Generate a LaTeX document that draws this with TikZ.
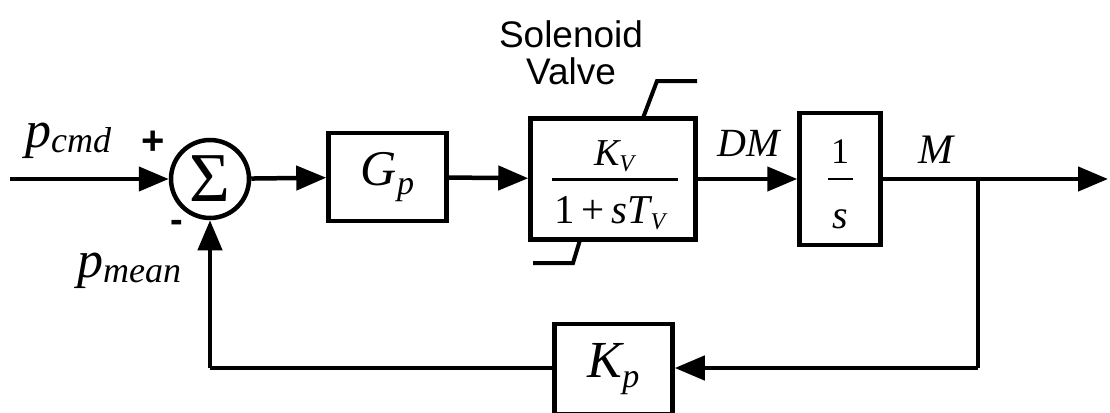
\documentclass[tikz,border=0pt]{standalone}
\usepackage{fontspec}
\setmainfont{Liberation Serif}
\newfontfamily\ars{Liberation Sans}
\usetikzlibrary{arrows.meta}
\newcommand\fsz[1]{\fontsize{#1}{#1}\selectfont}
\begin{document}
\begin{tikzpicture}[x=1pt,y=-1pt,
  blk/.style={draw,line width=4.5pt,inner sep=0pt},
  arr/.style={line width=4.5pt,-{Triangle[length=30pt,width=24pt]}},
  ln/.style={line width=4.5pt},
  lbl/.style={inner sep=0pt}]
\useasboundingbox[fill=white] (0,0) rectangle (1110,412);
% blocks
\node[blk,circle,minimum size=78pt] (sum) at (210,179) {\raisebox{-1pt}{\fsz{70}Σ}};
\node[blk,minimum width=118pt,minimum height=88pt] (gp) at (387.5,177)
  {\itshape\fsz{50}G\raisebox{-9pt}{\fsz{34}p}};
\node[blk,minimum width=165pt,minimum height=121pt] (sv) at (613,179) {};
\node[blk,minimum width=81pt,minimum height=132pt] (int) at (840,179) {};
\node[blk,minimum width=118pt,minimum height=90pt] (kp) at (613.5,369)
  {\itshape\fsz{52}K\raisebox{-10pt}{\fsz{34}p}};
% fraction contents
\node[lbl] (kvn) at (614,156) {\itshape\fsz{38}K\raisebox{-6pt}{\fsz{24}V}};
\node[lbl] (kvd) at (610,213) {\fsz{41}1\,+\,{\itshape sT\raisebox{-6pt}{\fsz{24}V}}};
\draw[line width=3pt] (552,179) -- (678,179);
\node[lbl] (one) at (840,152) {\fsz{36}1};
\node[lbl] (ess) at (840,219) {\itshape\fsz{40}s};
\draw[line width=2.5pt] (828,179) -- (853,179);
% saturation limits
\draw[line width=4pt] (643,118) -- (657,81) -- (697,81);
\draw[line width=4pt] (580,240) -- (573,263) -- (533,263);
\node[lbl,align=center,font=\ars\fontsize{37}{37}\selectfont] (sol) at (571,53) {Solenoid\\Valve};
% connectors
\coordinate (in) at (10,179);
\coordinate (out) at (1108,179);
\coordinate (j) at (978,179);
\coordinate (jb) at (978,368);
\coordinate (fb) at (210,368);
\draw[arr] (in) -- (sum);
\draw[arr] (sum) -- (gp);
\draw[arr] (gp) -- (sv);
\draw[arr] (sv) -- (int);
\draw[ln] (int) -- (j);
\draw[arr] (j) -- (out);
\draw[ln] (j) -- (jb);
\draw[arr] (jb) -- (kp.east |- jb);
\draw[ln] (kp.west |- fb) -- (fb);
\draw[arr] (fb) -- (sum.south);
% labels
\node[lbl,anchor=base west] (pc) at (25,147) {\itshape\fsz{52}p\raisebox{-5pt}{\fsz{36}cmd}};
\node[lbl,anchor=base west] (pm) at (77,277) {\itshape\fsz{52}p\raisebox{-5pt}{\fsz{36}mean}};
\node[lbl] (plus) at (153,143) {\ars\bfseries\fsz{40}+};
\node[lbl] (minus) at (177,226) {\ars\bfseries\fsz{38}-};
\node[lbl] (dm) at (749,143) {\itshape\fsz{40}DM};
\node[lbl] (m) at (936,150) {\itshape\fsz{42}M};
\end{tikzpicture}
\end{document}
